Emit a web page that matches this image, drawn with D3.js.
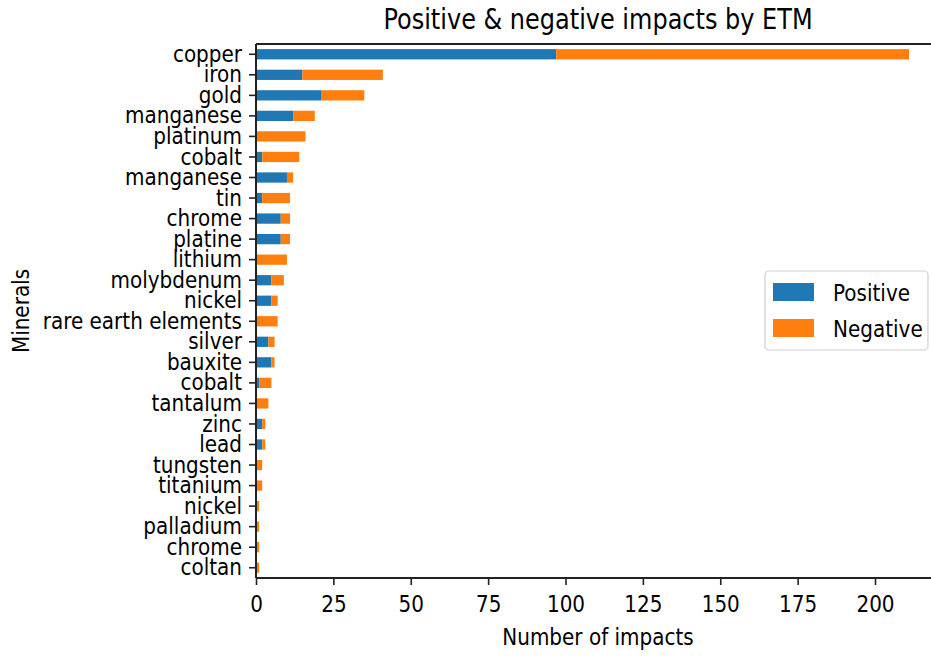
<!DOCTYPE html>
<html>
<head>
<meta charset="utf-8">
<script src="https://cdn.jsdelivr.net/npm/d3@7"></script>
<style>
  html, body { margin: 0; padding: 0; background: #fff; }
  svg text { font-family: "DejaVu Sans", sans-serif; fill: #000; }
</style>
</head>
<body>
<svg id="chart" width="931" height="657"></svg>
<script>
// Minerals listed top to bottom
const minerals = ["copper", "iron", "gold", "manganese", "platinum", "cobalt", "manganese",
  "tin", "chrome", "platine", "lithium", "molybdenum", "nickel", "rare earth elements",
  "silver", "bauxite", "cobalt", "tantalum", "zinc", "lead", "tungsten", "titanium",
  "nickel", "palladium", "chrome", "coltan"];
const positive = [97, 15, 21, 12, 0, 2, 10, 2, 8, 8, 0, 5, 5, 0, 4, 5, 1, 0, 2, 2, 0, 0, 0, 0, 0, 0];
const negative = [114, 26, 14, 7, 16, 12, 2, 9, 3, 3, 10, 4, 2, 7, 2, 1, 4, 4, 1, 1, 2, 2, 1, 1, 1, 1];
const xTicks = [0, 25, 50, 75, 100, 125, 150, 175, 200];
const seriesNames = ["Positive", "Negative"];
const seriesColors = ["#1f77b4", "#ff7f0e"];

const svg = d3.select("#chart");
const plotLeft = 256, plotTop = 44, plotBottom = 578;
const totals = minerals.map((_, i) => positive[i] + negative[i]);
const xMax = d3.max(totals) * 1.05;
const plotRight = plotLeft + xMax * 3.095;
const stretch = 1.18; // glyphs are drawn slightly taller than wide

const x = d3.scaleLinear().domain([0, xMax]).range([plotLeft, plotRight]);
const y = d3.scaleBand().domain(d3.range(minerals.length)).range([plotTop, plotBottom])
  .paddingInner(0.5).paddingOuter(0.25);

// text helper: places a string with its glyphs stretched vertically about (tx, ty)
function label(parent, tx, ty, str, size, anchor, rotate) {
  return parent.append("text")
    .attr("transform", `translate(${tx},${ty})${rotate ? ` rotate(${rotate})` : ""} scale(1,${stretch})`)
    .attr("text-anchor", anchor || "start")
    .attr("font-size", size)
    .text(str);
}

// stacked bars
const rows = minerals.map((m, i) => ({ i, pos: positive[i], neg: negative[i] }));
const g = svg.append("g");
g.selectAll("rect.pos").data(rows).join("rect")
  .attr("class", "pos")
  .attr("x", d => x(0)).attr("y", d => y(d.i))
  .attr("width", d => x(d.pos) - x(0)).attr("height", y.bandwidth())
  .attr("fill", seriesColors[0]);
g.selectAll("rect.neg").data(rows).join("rect")
  .attr("class", "neg")
  .attr("x", d => x(d.pos)).attr("y", d => y(d.i))
  .attr("width", d => x(d.pos + d.neg) - x(d.pos)).attr("height", y.bandwidth())
  .attr("fill", seriesColors[1]);

// spines
svg.append("line").attr("x1", plotLeft).attr("x2", plotLeft).attr("y1", plotTop).attr("y2", plotBottom)
  .attr("stroke", "#222").attr("stroke-width", 2);
svg.append("line").attr("x1", plotLeft).attr("x2", plotRight).attr("y1", plotBottom).attr("y2", plotBottom)
  .attr("stroke", "#222").attr("stroke-width", 2);
svg.append("line").attr("x1", plotLeft).attr("x2", plotRight).attr("y1", plotTop).attr("y2", plotTop)
  .attr("stroke", "#222").attr("stroke-width", 2);

// x axis
const xAxis = d3.axisBottom(x).tickValues(xTicks).tickSize(7).tickPadding(7);
const xg = svg.append("g").attr("transform", `translate(0,${plotBottom})`).call(xAxis);
xg.select(".domain").remove();
xg.selectAll(".tick line").attr("stroke", "#222").attr("stroke-width", 1.6);
xg.selectAll(".tick text")
  .attr("font-size", 20).attr("font-family", "DejaVu Sans").attr("fill", "#000")
  .attr("y", 0).attr("dy", null)
  .attr("transform", `translate(0,${34}) scale(1,${stretch})`);

// y axis
const yAxis = d3.axisLeft(y).tickFormat(i => minerals[i]).tickSize(7).tickPadding(7);
const yg = svg.append("g").attr("transform", `translate(${plotLeft},0)`).call(yAxis);
yg.select(".domain").remove();
yg.selectAll(".tick line").attr("stroke", "#222").attr("stroke-width", 1.6);
yg.selectAll(".tick text")
  .attr("font-size", 20).attr("font-family", "DejaVu Sans").attr("fill", "#000")
  .attr("transform", `scale(1,${stretch})`);

// titles
label(svg, 598, 29, "Positive & negative impacts by ETM", 24, "middle");
label(svg, 598, 645, "Number of impacts", 20, "middle");
label(svg, 29, 311, "Minerals", 20, "middle", -90);

// legend
const lg = svg.append("g");
lg.append("rect").attr("x", 765).attr("y", 271).attr("width", 163).attr("height", 79)
  .attr("rx", 4).attr("fill", "#fff").attr("fill-opacity", 0.8).attr("stroke", "#d0d0d0").attr("stroke-width", 1.2);
seriesNames.forEach((name, k) => {
  lg.append("rect").attr("x", 773).attr("y", 283 + k * 36).attr("width", 41).attr("height", 18)
    .attr("fill", seriesColors[k]);
  label(lg, 833, 301 + k * 36, name, 20, "start");
});
</script>
</body>
</html>
